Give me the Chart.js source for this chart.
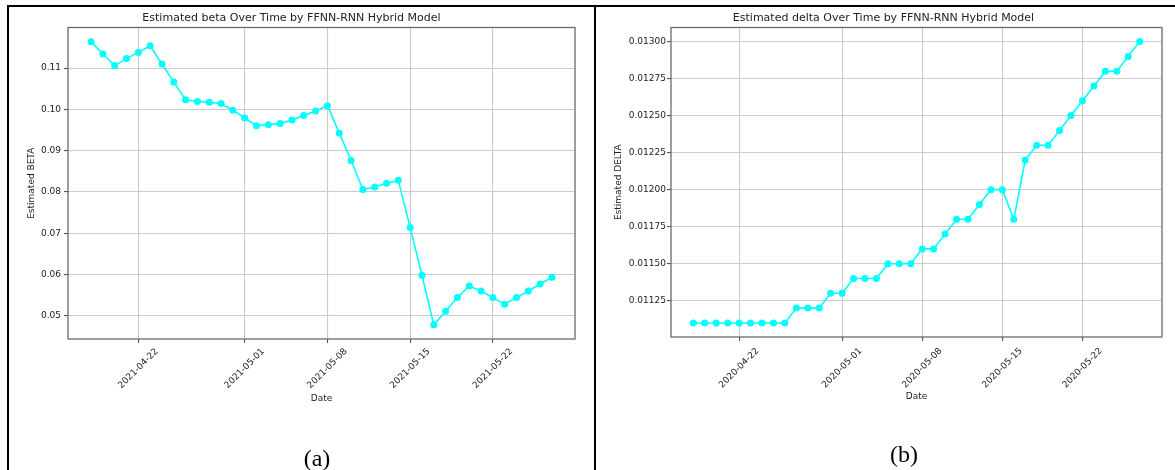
<!DOCTYPE html>
<html><head><meta charset="utf-8">
<script src="https://cdn.jsdelivr.net/npm/chart.js@4"></script>
<style>
html,body{margin:0;padding:0;background:#fff;width:1175px;height:470px;overflow:hidden;position:relative;font-family:'DejaVu Sans',sans-serif}
canvas{position:absolute;top:0}
.line{position:absolute;background:#000}
.cap{position:absolute;font-family:'Liberation Serif',serif;font-size:24px;color:#000;transform:translate(-50%,-50%);line-height:1}
</style></head><body>
<canvas id="c1" width="642" height="470" style="left:0px;width:642px;height:470px"></canvas>
<canvas id="c2" width="642" height="470" style="left:595px;width:642px;height:470px"></canvas>
<div class="line" style="left:7px;top:5px;width:1168px;height:2px"></div>
<div class="line" style="left:7px;top:5px;width:2px;height:465px"></div>
<div class="line" style="left:594px;top:5px;width:2px;height:465px"></div>
<div class="cap" style="left:317px;top:458px">(a)</div>
<div class="cap" style="left:904px;top:454px">(b)</div>
<script>
// ---- data ----
const betaDates = ['2021-04-18','2021-04-19','2021-04-20','2021-04-21','2021-04-22','2021-04-23','2021-04-24','2021-04-25','2021-04-26','2021-04-27',
  '2021-04-28','2021-04-29','2021-04-30','2021-05-01','2021-05-02','2021-05-03','2021-05-04','2021-05-05','2021-05-06','2021-05-07',
  '2021-05-08','2021-05-09','2021-05-10','2021-05-11','2021-05-12','2021-05-13','2021-05-14','2021-05-15','2021-05-16','2021-05-17',
  '2021-05-18','2021-05-19','2021-05-20','2021-05-21','2021-05-22','2021-05-23','2021-05-24','2021-05-25','2021-05-26','2021-05-27'];
const betaValues = [0.1164,0.1134,0.1106,0.1123,0.1138,0.1154,0.1110,0.1066,0.1023,0.1019,
  0.1017,0.1014,0.0998,0.0979,0.0960,0.0963,0.0966,0.0974,0.0985,0.0996,
  0.1009,0.0943,0.0876,0.0806,0.0812,0.0821,0.0828,0.0714,0.0598,0.0478,
  0.0511,0.0544,0.0572,0.0560,0.0544,0.0528,0.0544,0.0560,0.0577,0.0593];
const betaXTicks = ['2021-04-22','2021-05-01','2021-05-08','2021-05-15','2021-05-22'];
const betaYTicks = [0.05,0.06,0.07,0.08,0.09,0.10,0.11];

const deltaDates = ['2020-04-18','2020-04-19','2020-04-20','2020-04-21','2020-04-22','2020-04-23','2020-04-24','2020-04-25','2020-04-26','2020-04-27',
  '2020-04-28','2020-04-29','2020-04-30','2020-05-01','2020-05-02','2020-05-03','2020-05-04','2020-05-05','2020-05-06','2020-05-07',
  '2020-05-08','2020-05-09','2020-05-10','2020-05-11','2020-05-12','2020-05-13','2020-05-14','2020-05-15','2020-05-16','2020-05-17',
  '2020-05-18','2020-05-19','2020-05-20','2020-05-21','2020-05-22','2020-05-23','2020-05-24','2020-05-25','2020-05-26','2020-05-27'];
const deltaValues = [0.0111,0.0111,0.0111,0.0111,0.0111,0.0111,0.0111,0.0111,0.0111,0.0112,
  0.0112,0.0112,0.0113,0.0113,0.0114,0.0114,0.0114,0.0115,0.0115,0.0115,
  0.0116,0.0116,0.0117,0.0118,0.0118,0.0119,0.0120,0.0120,0.0118,0.0122,
  0.0123,0.0123,0.0124,0.0125,0.0126,0.0127,0.0128,0.0128,0.0129,0.0130];
const deltaXTicks = ['2020-04-22','2020-05-01','2020-05-08','2020-05-15','2020-05-22'];
const deltaYTicks = [0.01125,0.0115,0.01175,0.012,0.01225,0.0125,0.01275,0.013];

// ---- helpers ----
const dayNum = s => Date.UTC(+s.slice(0,4), +s.slice(5,7)-1, +s.slice(8,10)) / 86400000;
const dayStr = n => new Date(Math.round(n)*86400000).toISOString().slice(0,10);
Chart.defaults.font.family = "'DejaVu Sans', sans-serif";
const TXT = '#222';

const spines = {
  id:'spines',
  afterDatasetsDraw(chart){
    const {ctx, chartArea:a} = chart;
    ctx.save(); ctx.strokeStyle='#6a6a6a'; ctx.lineWidth=1.3;
    ctx.strokeRect(a.left, a.top, a.right-a.left, a.bottom-a.top);
    ctx.restore();
  }
};

function makeChart(id, c){
  const xs = c.dates.map(dayNum);
  const xr = xs[xs.length-1]-xs[0];
  const ymin = Math.min(...c.values), ymax = Math.max(...c.values), yr = ymax-ymin;
  const xt = c.xTicks.map(dayNum);
  return new Chart(document.getElementById(id), {
    type:'line',
    data:{datasets:[{
      data: xs.map((x,i)=>({x, y:c.values[i]})),
      borderColor:'#00ffff', backgroundColor:'#00ffff',
      borderWidth:1.6, pointRadius:3.5, pointBorderWidth:0,
      pointBackgroundColor:'#00ffff', tension:0, fill:false
    }]},
    options:{
      responsive:false, animation:false, events:[],
      layout:{padding:{left:c.padL, right:c.padR, top:0, bottom:0}},
      plugins:{
        legend:{display:false}, tooltip:{enabled:false},
        title:{display:true, text:c.title, color:TXT, font:{size:11, weight:'normal'}, padding:{top:11.7, bottom:2.6}}
      },
      scales:{
        x:{type:'linear', min:xs[0]-0.05*xr, max:xs[xs.length-1]+0.05*xr,
          afterBuildTicks:s=>{ s.ticks = xt.map(v=>({value:v})); },
          afterFit:s=>{ s.height = c.xH; },
          border:{display:false},
          grid:{color:'#cbcbcb', lineWidth:1.1, tickColor:'#555', tickLength:4},
          ticks:{autoSkip:false, minRotation:45, maxRotation:45, color:TXT, font:{size:9},
            padding:c.xTickPad, labelOffset:18.5, callback:v=>dayStr(v)},
          title:{display:true, text:'Date', color:TXT, font:{size:9}, padding:{top:0, bottom:c.datePad}}
        },
        y:{type:'linear', min:ymin-0.05*yr, max:ymax+0.05*yr,
          afterBuildTicks:s=>{ s.ticks = c.yTicks.map(v=>({value:v})); },
          afterFit:s=>{ s.width = c.yW; },
          border:{display:false},
          grid:{color:'#cbcbcb', lineWidth:1.1, tickColor:'#555', tickLength:4},
          ticks:{color:TXT, font:{size:9}, padding:c.yTickPad, callback:v=>v.toFixed(c.dec)},
          title:{display:true, text:c.yTitle, color:TXT, font:{size:9}, padding:{top:c.yTitlePad, bottom:0}}
        }
      }
    },
    plugins:[spines]
  });
}

makeChart('c1', {dates:betaDates, values:betaValues, xTicks:betaXTicks, yTicks:betaYTicks, dec:2,
  title:'Estimated beta Over Time by FFNN-RNN Hybrid Model', yTitle:'Estimated BETA',
  padL:8, padR:67, yW:60, yTitlePad:18.3, yTickPad:3, xH:131, xTickPad:3.2, datePad:65.6});
makeChart('c2', {dates:deltaDates, values:deltaValues, xTicks:deltaXTicks, yTicks:deltaYTicks, dec:5,
  title:'Estimated delta Over Time by FFNN-RNN Hybrid Model', yTitle:'Estimated DELTA',
  padL:10, padR:75, yW:66, yTitlePad:7.9, yTickPad:1, xH:133, xTickPad:4.7, datePad:67.9});
</script>
</body></html>
